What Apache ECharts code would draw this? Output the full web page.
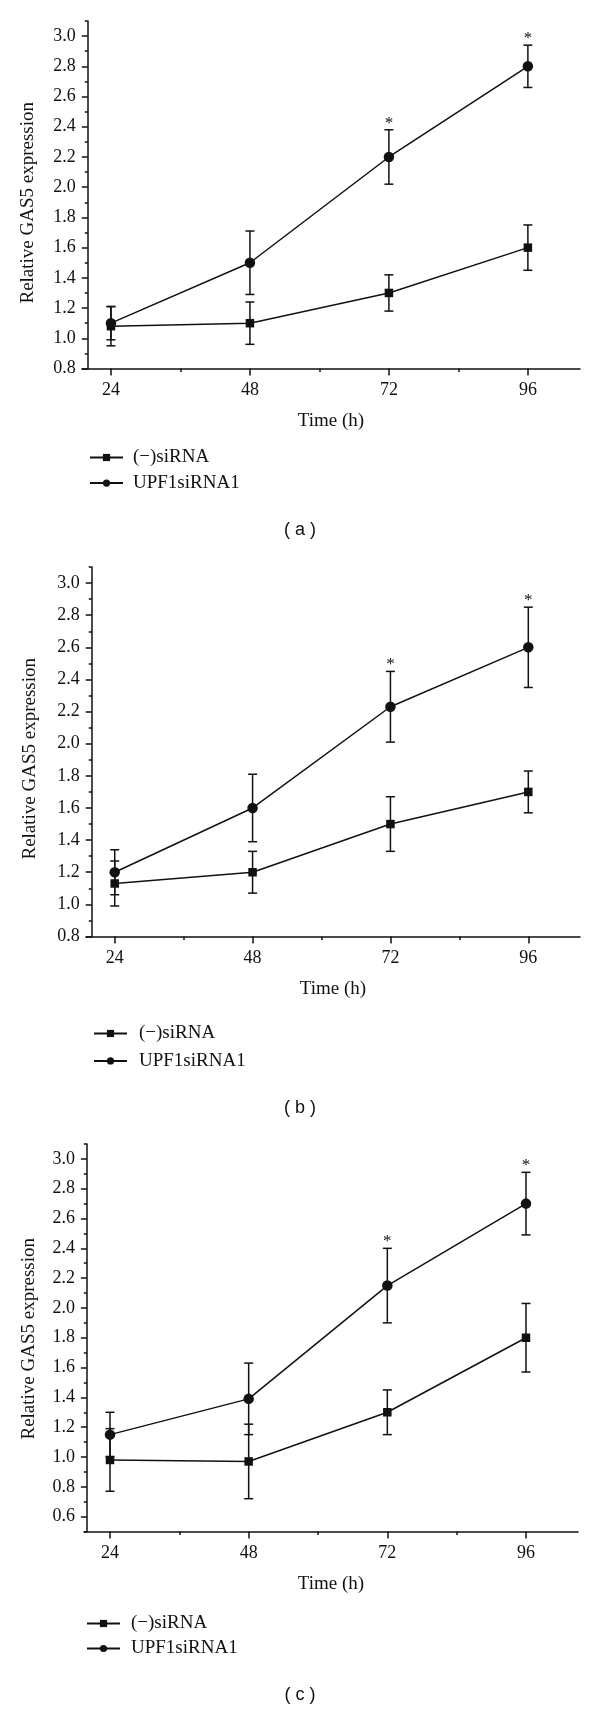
<!DOCTYPE html>
<html>
<head>
<meta charset="utf-8">
<script src="https://cdn.jsdelivr.net/npm/echarts@6/dist/echarts.min.js"></script>
<style>
html,body{margin:0;padding:0;background:#fff;}
#chart{width:600px;height:1711px;}
</style>
</head>
<body>
<div id="chart"></div>
<script>
// ---------- data ----------
const hours = [24, 48, 72, 96];
const seriesNames = ['(\u2212)siRNA', 'UPF1siRNA1'];
const panelLabels = ['( a )', '( b )', '( c )'];
const starHours = [72, 96];

// panel a
const ctrlA = [1.08, 1.10, 1.30, 1.60];
const ctrlAErr = [0.13, 0.14, 0.12, 0.15];
const upfA = [1.10, 1.50, 2.20, 2.80];
const upfAErr = [0.11, 0.21, 0.18, 0.14];
// panel b
const ctrlB = [1.13, 1.20, 1.50, 1.70];
const ctrlBErr = [0.14, 0.13, 0.17, 0.13];
const upfB = [1.20, 1.60, 2.23, 2.60];
const upfBErr = [0.14, 0.21, 0.22, 0.25];
// panel c
const ctrlC = [0.98, 0.97, 1.30, 1.80];
const ctrlCErr = [0.21, 0.25, 0.15, 0.23];
const upfC = [1.15, 1.39, 2.15, 2.70];
const upfCErr = [0.15, 0.24, 0.25, 0.21];

// axis ticks
const xTickLabels = [24, 48, 72, 96];
const xMinorTicks = [36, 60, 84];
const yTicksAB = [0.8, 1.0, 1.2, 1.4, 1.6, 1.8, 2.0, 2.2, 2.4, 2.6, 2.8, 3.0];
const yMinorAB = [0.9, 1.1, 1.3, 1.5, 1.7, 1.9, 2.1, 2.3, 2.5, 2.7, 2.9, 3.1];
const yTicksC = [0.6, 0.8, 1.0, 1.2, 1.4, 1.6, 1.8, 2.0, 2.2, 2.4, 2.6, 2.8, 3.0];
const yMinorC = [0.5, 0.7, 0.9, 1.1, 1.3, 1.5, 1.7, 1.9, 2.1, 2.3, 2.5, 2.7, 2.9, 3.1];

// ---------- layout ----------
const panels = [
  {ctrl: ctrlA, ctrlErr: ctrlAErr, upf: upfA, upfErr: upfAErr, yTicks: yTicksAB, yMinor: yMinorAB,
   yMin: 0.8, yMax: 3.1, xMin: 19, xMax: 105,
   grid: {left: 82, top: 21, width: 498, height: 347.5},
   legendLeft: 89, legendTop: 448, legendGap: 6.6, textPad: 5, caption: 530, yNameGap: 50, yShift: 8},
  {ctrl: ctrlB, ctrlErr: ctrlBErr, upf: upfB, upfErr: upfBErr, yTicks: yTicksAB, yMinor: yMinorAB,
   yMin: 0.8, yMax: 3.1, xMin: 19, xMax: 105,
   grid: {left: 86, top: 567, width: 494, height: 369.5},
   legendLeft: 93, legendTop: 1024, legendGap: 8.4, textPad: 7, caption: 1108, yNameGap: 52, yShift: 7},
  {ctrl: ctrlC, ctrlErr: ctrlCErr, upf: upfC, upfErr: upfCErr, yTicks: yTicksC, yMinor: yMinorC,
   yMin: 0.5, yMax: 3.1, xMin: 19.5, xMax: 105,
   grid: {left: 84, top: 1144, width: 494, height: 387.5},
   legendLeft: 86, legendTop: 1614, legendGap: 6, textPad: 6, caption: 1695, yNameGap: 48, yShift: 1}
];

const serif = 'Liberation Serif';
const black = '#111';

const option = {
  animation: false,
  backgroundColor: '#fff',
  grid: [], xAxis: [], yAxis: [], series: [], legend: [], graphic: []
};

function errRender(params, api) {
  const x = api.value(0), lo = api.value(1), hi = api.value(2);
  const pLo = api.coord([x, lo]);
  const pHi = api.coord([x, hi]);
  const w = 4.5;
  const st = {stroke: black, lineWidth: 1.5};
  return {type: 'group', children: [
    {type: 'line', shape: {x1: pLo[0], y1: pLo[1], x2: pHi[0], y2: pHi[1]}, style: st},
    {type: 'line', shape: {x1: pLo[0] - w, y1: pLo[1], x2: pLo[0] + w, y2: pLo[1]}, style: st},
    {type: 'line', shape: {x1: pHi[0] - w, y1: pHi[1], x2: pHi[0] + w, y2: pHi[1]}, style: st}
  ]};
}

function starRender(params, api) {
  const p = api.coord([api.value(0), api.value(1)]);
  return {type: 'text', style: {text: '*', x: p[0], y: p[1] + 2, fill: black,
    font: '17px "' + serif + '"', textAlign: 'center', textVerticalAlign: 'bottom'}};
}

panels.forEach((pn, i) => {
  option.grid.push(Object.assign({containLabel: false}, pn.grid));
  const yOffset = -(20 - pn.xMin) * pn.grid.width / (pn.xMax - pn.xMin);
  // main x axis
  option.xAxis.push({
    type: 'value', gridIndex: i, min: pn.xMin, max: pn.xMax,
    name: 'Time (h)', nameLocation: 'middle', nameGap: 43,
    nameTextStyle: {fontFamily: serif, fontSize: 19, color: black},
    axisLine: {show: true, onZero: false, lineStyle: {color: black, width: 1.5}},
    axisTick: {show: true, inside: false, length: 7, lineStyle: {color: black, width: 1.5}, customValues: xTickLabels},
    axisLabel: {show: true, margin: 13, fontFamily: serif, fontSize: 18, color: black, customValues: xTickLabels},
    splitLine: {show: false}
  });
  // minor x ticks
  option.xAxis.push({
    type: 'value', gridIndex: i, min: pn.xMin, max: pn.xMax, position: 'bottom',
    axisLine: {show: false, onZero: false},
    axisTick: {show: true, inside: false, length: 3.5, lineStyle: {color: black, width: 1.5}, customValues: xMinorTicks},
    axisLabel: {show: false}, splitLine: {show: false}
  });
  // main y axis
  option.yAxis.push({
    type: 'value', gridIndex: i, min: pn.yMin, max: pn.yMax, offset: yOffset,
    name: 'Relative GAS5 expression', nameLocation: 'middle', nameGap: pn.yNameGap, nameRotate: 90,
    nameTextStyle: {fontFamily: serif, fontSize: 19, color: black, padding: [0, pn.yShift * 2, 0, 0]},
    axisLine: {show: true, onZero: false, lineStyle: {color: black, width: 1.5}},
    axisTick: {show: true, inside: false, length: 6, lineStyle: {color: black, width: 1.5}, customValues: pn.yTicks},
    axisLabel: {show: true, margin: 12, fontFamily: serif, fontSize: 18, color: black,
      customValues: pn.yTicks, formatter: v => v.toFixed(1)},
    splitLine: {show: false}
  });
  // minor y ticks
  option.yAxis.push({
    type: 'value', gridIndex: i, min: pn.yMin, max: pn.yMax, offset: yOffset, position: 'left',
    axisLine: {show: false, onZero: false},
    axisTick: {show: true, inside: false, length: 3, lineStyle: {color: black, width: 1.5}, customValues: pn.yMinor},
    axisLabel: {show: false}, splitLine: {show: false}
  });
  const xi = i * 2, yi = i * 2;
  const ctrlData = hours.map((h, k) => [h, pn.ctrl[k]]);
  const upfData = hours.map((h, k) => [h, pn.upf[k]]);
  const ctrlErrData = hours.map((h, k) => [h, pn.ctrl[k] - pn.ctrlErr[k], pn.ctrl[k] + pn.ctrlErr[k]]);
  const upfErrData = hours.map((h, k) => [h, pn.upf[k] - pn.upfErr[k], pn.upf[k] + pn.upfErr[k]]);
  const starData = starHours.map(h => { const k = hours.indexOf(h); return [h, pn.upf[k] + pn.upfErr[k]]; });

  option.series.push(
    {type: 'custom', xAxisIndex: xi, yAxisIndex: yi, renderItem: errRender, data: ctrlErrData, z: 1, silent: true},
    {type: 'custom', xAxisIndex: xi, yAxisIndex: yi, renderItem: errRender, data: upfErrData, z: 1, silent: true},
    {type: 'line', name: seriesNames[0], xAxisIndex: xi, yAxisIndex: yi, data: ctrlData,
      symbol: 'rect', symbolSize: 8.5, z: 3,
      lineStyle: {color: black, width: 1.5}, itemStyle: {color: black}},
    {type: 'line', name: seriesNames[1], xAxisIndex: xi, yAxisIndex: yi, data: upfData,
      symbol: 'circle', symbolSize: 10.5, z: 3,
      lineStyle: {color: black, width: 1.5}, itemStyle: {color: black}},
    {type: 'custom', xAxisIndex: xi, yAxisIndex: yi, renderItem: starRender, data: starData, z: 4, silent: true}
  );
  option.legend.push({
    data: seriesNames, orient: 'vertical', left: pn.legendLeft, top: pn.legendTop,
    itemWidth: 33, itemHeight: 9, itemGap: pn.legendGap, selectedMode: false, padding: 0,
    textStyle: {fontFamily: serif, fontSize: 19, color: black, lineHeight: 19, padding: [0, 0, 0, pn.textPad]}
  });
  option.graphic.push({
    type: 'text', left: 'center', top: pn.caption - 9,
    style: {text: panelLabels[i], font: '18px "Liberation Sans"', fill: black}
  });
});

const chart = echarts.init(document.getElementById('chart'), null, {renderer: 'canvas'});
chart.setOption(option);
</script>
</body>
</html>
